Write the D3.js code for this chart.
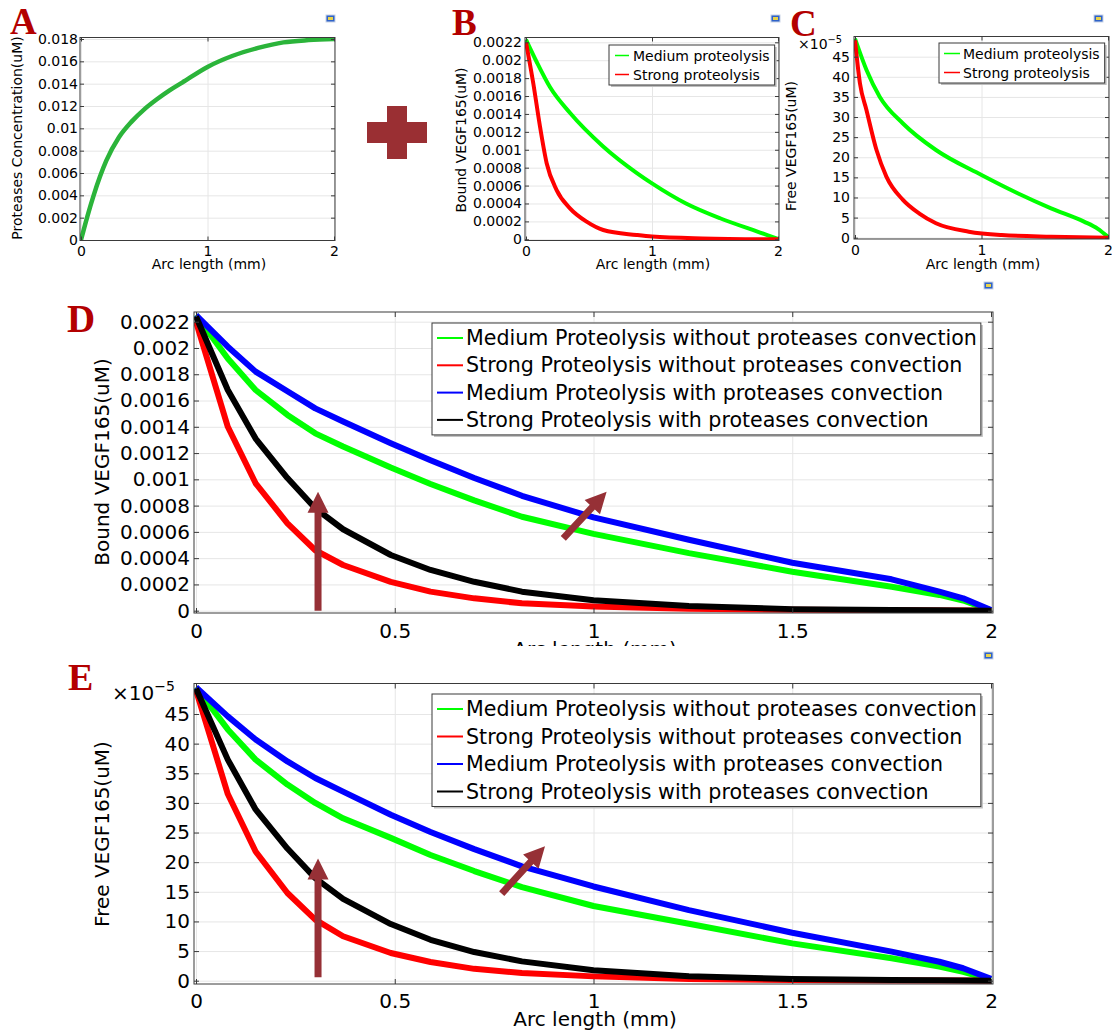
<!DOCTYPE html>
<html>
<head>
<meta charset="utf-8">
<script src="https://cdn.jsdelivr.net/npm/d3@7"></script>
<style>
  body { margin: 0; background: #fff; }
  svg { font-family: "DejaVu Sans", sans-serif; display: block; }
</style>
</head>
<body>
<svg id="fig" width="1112" height="1032"></svg>
<script>
// ---- values ----
// A: proteases concentration (uM) vs arc length (mm)
const arcA = [0, 0.05, 0.1, 0.2, 0.3, 0.4, 0.5, 0.6, 0.7, 0.8, 1.0, 1.2, 1.4, 1.6, 1.8, 2.0];
const proteaseA = [0, 0.0021, 0.0040, 0.0071, 0.0092, 0.0106, 0.0117, 0.0126, 0.0134, 0.0141, 0.0155, 0.0165, 0.0172, 0.0177, 0.0179, 0.0180];

// B: bound VEGF165 (uM)
const arcBMed = [0, 0.085, 0.19, 0.35, 0.61, 0.88, 1.0, 1.27, 1.54, 1.8, 1.92, 2.0];
const boundBMed = [0.00223, 0.00198, 0.0017, 0.00141, 0.00104, 0.00074, 0.000625, 0.0004, 0.000235, 0.000104, 0.000045, 0.000005];
const arcBStrong = [0, 0.058, 0.111, 0.164, 0.243, 0.349, 0.481, 0.613, 0.877, 1.0, 1.4, 2.0];
const boundBStrong = [0.0022, 0.00174, 0.00126, 0.00085, 0.00055, 0.000346, 0.000197, 0.000104, 0.000048, 0.00003, 0.00001, 0];

// C: free VEGF165 (x1e-5 uM)
const arcCMed = [0, 0.091, 0.196, 0.379, 0.64, 1.0, 1.29, 1.55, 1.81, 1.92, 2.0];
const freeCMed = [49.5, 41.7, 35.0, 28.4, 21.8, 15.6, 11.0, 7.3, 4.0, 2.2, 0.2];
const arcCStrong = [0, 0.039, 0.091, 0.17, 0.248, 0.379, 0.509, 0.64, 0.9, 1.16, 1.55, 2.0];
const freeCStrong = [49.1, 38.4, 31.7, 21.8, 15.2, 9.4, 6.0, 3.6, 1.5, 0.66, 0.25, 0];

// D and E share the mesh points
const arcDE = [0, 0.08, 0.15, 0.23, 0.3, 0.37, 0.49, 0.59, 0.7, 0.82, 1.0, 1.24, 1.5, 1.75, 1.87, 1.93, 2.0];
const boundMedNoConv    = [0.00225, 0.00192, 0.00168, 0.00149, 0.00135, 0.00125, 0.00109, 0.000965, 0.00084, 0.000715, 0.000585, 0.000438, 0.000297, 0.000182, 0.00012, 0.000078, 0.000002];
const boundStrongNoConv = [0.0022, 0.0014, 0.00097, 0.000665, 0.00046, 0.000348, 0.00022, 0.000145, 0.000094, 0.000056, 0.000032, 0.000015, 0.000008, 0.000004, 0.000002, 0.000001, 0];
const boundMedConv      = [0.00225, 0.00201, 0.00182, 0.00167, 0.00154, 0.00144, 0.001275, 0.001145, 0.00101, 0.000875, 0.00071, 0.00054, 0.000365, 0.000239, 0.000145, 0.000094, 0.000005];
const boundStrongConv   = [0.00224, 0.00168, 0.00131, 0.00101, 0.00078, 0.00062, 0.000424, 0.00031, 0.00022, 0.000145, 0.00008, 0.000035, 0.000012, 0.000005, 0.000003, 0.000002, 0];

const freeMedNoConv    = [49.5, 42.4, 37.3, 33.1, 30.0, 27.4, 24.1, 21.2, 18.5, 15.8, 12.6, 9.6, 6.3, 3.8, 2.4, 1.5, 0.2];
const freeStrongNoConv = [49.0, 31.5, 21.8, 14.8, 10.3, 7.5, 4.67, 3.15, 2.0, 1.3, 0.73, 0.3, 0.12, 0.05, 0.03, 0.02, 0];
const freeMedConv      = [49.5, 44.6, 40.7, 37.0, 34.2, 31.9, 28.0, 25.1, 22.2, 19.3, 15.9, 11.9, 8.1, 4.9, 3.2, 2.1, 0.3];
const freeStrongConv   = [49.3, 37.3, 28.9, 22.3, 17.3, 13.8, 9.56, 6.9, 4.84, 3.26, 1.75, 0.75, 0.3, 0.12, 0.06, 0.03, 0];

// ticks
const arcTicksSmall = [0, 1, 2];
const arcTicksBig = [0, 0.5, 1, 1.5, 2];
const proteaseTicks = [0, 0.002, 0.004, 0.006, 0.008, 0.01, 0.012, 0.014, 0.016, 0.018];
const boundTicks = [0, 0.0002, 0.0004, 0.0006, 0.0008, 0.001, 0.0012, 0.0014, 0.0016, 0.0018, 0.002, 0.0022];
const freeTicks = [0, 5, 10, 15, 20, 25, 30, 35, 40, 45];

// legend texts
const legendSmall = ["Medium proteolysis", "Strong proteolysis"];
const legendBig = [
  "Medium Proteolysis without proteases convection",
  "Strong Proteolysis without proteases convection",
  "Medium Proteolysis with proteases convection",
  "Strong Proteolysis with proteases convection"
];

// annotation arrows, in data units [from, to]
const arrowsD = [[[0.307, 0], [0.307, 0.000905]], [[0.924, 0.000551], [1.033, 0.000905]]];
const arrowsE = [[[0.307, 0.6], [0.307, 20.6]], [[0.769, 14.7], [0.878, 22.7]]];

const svg = d3.select("#fig");
const fmt = d3.format("~g");
const arrowColor = "#963036";

function arrowPath(x1, y1, x2, y2, shaft, headW, headL) {
  const dx = x2 - x1, dy = y2 - y1, len = Math.hypot(dx, dy);
  const ux = dx / len, uy = dy / len, nx = -uy, ny = ux;
  const bx = x2 - ux * headL, by = y2 - uy * headL;
  const pts = [
    [x1 + nx * shaft / 2, y1 + ny * shaft / 2],
    [bx + nx * shaft / 2, by + ny * shaft / 2],
    [bx + nx * headW / 2, by + ny * headW / 2],
    [x2, y2],
    [bx - nx * headW / 2, by - ny * headW / 2],
    [bx - nx * shaft / 2, by - ny * shaft / 2],
    [x1 - nx * shaft / 2, y1 - ny * shaft / 2]
  ];
  return "M" + pts.map(p => p.join(",")).join("L") + "Z";
}

function drawPanel(p, idx) {
  const [L, T, R, B] = p.frame;
  const x = d3.scaleLinear().domain([0, 2]).range(p.xr);
  const y = d3.scaleLinear().domain([0, p.yTicks[p.yTicks.length - 1]]).range(p.yr);
  const g = svg.append("g").attr("font-size", p.fs);

  // grid
  g.append("g").attr("transform", `translate(0,${B})`)
    .call(d3.axisBottom(x).tickValues(p.xTicks).tickSize(-(B - T)).tickFormat(""))
    .call(a => a.select(".domain").remove())
    .selectAll("line").attr("stroke", "#e6e6e6");
  g.append("g").attr("transform", `translate(${L},0)`)
    .call(d3.axisLeft(y).tickValues(p.yTicks).tickSize(-(R - L)).tickFormat(""))
    .call(a => a.select(".domain").remove())
    .selectAll("line").attr("stroke", "#e6e6e6");

  // curves
  const clipId = "clip" + idx;
  g.append("clipPath").attr("id", clipId).append("rect")
    .attr("x", L).attr("y", T).attr("width", R - L).attr("height", B - T);
  const line = d3.line().x(d => x(d[0])).y(d => y(d[1])).curve(p.curve);
  p.series.forEach(s => {
    g.append("path").datum(d3.zip(s.x, s.y))
      .attr("clip-path", `url(#${clipId})`)
      .attr("d", line)
      .attr("fill", "none")
      .attr("stroke", s.color)
      .attr("stroke-width", p.lw)
      .attr("stroke-linejoin", "round");
  });

  // frame
  g.append("rect").attr("x", L).attr("y", T).attr("width", R - L).attr("height", B - T)
    .attr("fill", "none").attr("stroke", "#3a3a3a").attr("stroke-width", 1);

  // ticks (inward on all four sides)
  const put = (axis, tx, ty) => g.append("g").attr("transform", `translate(${tx},${ty})`)
    .call(axis)
    .call(a => a.select(".domain").remove())
    .attr("font-size", null).attr("font-family", null)
    .call(a => a.selectAll("line").attr("stroke", "#3a3a3a"));
  put(d3.axisBottom(x).tickValues(p.xTicks).tickSize(-p.tick).tickPadding(p.xPad).tickFormat(fmt), 0, B);
  put(d3.axisTop(x).tickValues(p.xTicks).tickSize(-p.tick).tickFormat(""), 0, T);
  put(d3.axisLeft(y).tickValues(p.yTicks).tickSize(-p.tick).tickPadding(p.yPad).tickFormat(fmt), L, 0);
  put(d3.axisRight(y).tickValues(p.yTicks).tickSize(-p.tick).tickFormat(""), R, 0);

  // axis titles
  const xt = g.append("text").attr("x", p.xTitle[0]).attr("y", p.xTitle[1])
    .attr("text-anchor", "middle").text("Arc length (mm)");
  if (p.xClip) {
    g.append("clipPath").attr("id", clipId + "t").append("rect")
      .attr("x", 0).attr("y", 0).attr("width", 1112).attr("height", p.xClip);
    xt.attr("clip-path", `url(#${clipId}t)`);
  }
  g.append("text")
    .attr("transform", `translate(${p.yTitle[0]},${p.yTitle[1]}) rotate(-90)`)
    .attr("text-anchor", "middle").attr("dominant-baseline", "central")
    .text(p.yLabel);

  if (p.exp) {
    const t = g.append("text").attr("x", p.exp[0]).attr("y", p.exp[1]).text("×10");
    t.append("tspan").attr("font-size", p.fs * 0.7).attr("dy", -p.fs * 0.45).text("−5");
  }

  // legend
  if (p.legend) {
    const lg = p.legend;
    const lgG = g.append("g").attr("font-size", lg.fs);
    const shadow = lgG.append("rect").attr("fill", "#bdbdbd");
    const box = lgG.append("rect").attr("fill", "#fff").attr("stroke", "#3a3a3a");
    let maxW = 0;
    p.series.forEach((s, i) => {
      const cy = lg.y + lg.first + i * lg.dy;
      lgG.append("line")
        .attr("x1", lg.x + lg.sample[0]).attr("x2", lg.x + lg.sample[1])
        .attr("y1", cy).attr("y2", cy)
        .attr("stroke", s.color).attr("stroke-width", lg.sw);
      const t = lgG.append("text").attr("x", lg.x + lg.textX).attr("y", cy)
        .attr("dominant-baseline", "central").text(s.label);
      maxW = Math.max(maxW, t.node().getComputedTextLength());
    });
    const w = lg.textX + maxW + lg.padR;
    const h = lg.first * 2 + (p.series.length - 1) * lg.dy;
    box.attr("x", lg.x).attr("y", lg.y).attr("width", w).attr("height", h);
    shadow.attr("x", lg.x + 2).attr("y", lg.y + 2).attr("width", w).attr("height", h);
  }

  // arrows
  (p.arrows || []).forEach(a => {
    g.append("path")
      .attr("d", arrowPath(x(a[0][0]), y(a[0][1]), x(a[1][0]), y(a[1][1]), 7, 21, 21))
      .attr("fill", arrowColor);
  });
}

const panels = [
  {
    frame: [80, 37.5, 335, 240.5], xr: [81, 334], yr: [240, 39],
    xTicks: arcTicksSmall, yTicks: proteaseTicks, fs: 14, tick: 4, xPad: 6, yPad: 2,
    lw: 4.5, curve: d3.curveMonotoneX,
    xTitle: [209, 269], yTitle: [17, 138], yLabel: "Proteases Concentration(uM)",
    series: [{ x: arcA, y: proteaseA, color: "#2bb43a" }]
  },
  {
    frame: [525, 37.5, 779, 240.5], xr: [526, 778], yr: [239.3, 42.3],
    xTicks: arcTicksSmall, yTicks: boundTicks, fs: 14, tick: 4, xPad: 6, yPad: 3,
    lw: 4, curve: d3.curveMonotoneX,
    xTitle: [653, 269], yTitle: [461, 140], yLabel: "Bound VEGF165(uM)",
    series: [
      { x: arcBMed, y: boundBMed, color: "#00ff00", label: legendSmall[0] },
      { x: arcBStrong, y: boundBStrong, color: "#ff0000", label: legendSmall[1] }
    ],
    legend: { x: 609, y: 45, first: 10.5, dy: 19, sample: [6, 20], textX: 24, padR: 5, sw: 1.5, fs: 14 }
  },
  {
    frame: [854, 36.5, 1109, 239], xr: [855, 1108], yr: [237.7, 56.7],
    xTicks: arcTicksSmall, yTicks: freeTicks, fs: 14, tick: 4, xPad: 6, yPad: 4,
    lw: 4, curve: d3.curveMonotoneX,
    xTitle: [983, 269], yTitle: [791, 146], yLabel: "Free VEGF165(uM)", exp: [798, 49],
    series: [
      { x: arcCMed, y: freeCMed, color: "#00ff00", label: legendSmall[0] },
      { x: arcCStrong, y: freeCStrong, color: "#ff0000", label: legendSmall[1] }
    ],
    legend: { x: 939, y: 43, first: 10.5, dy: 19, sample: [5, 21], textX: 24, padR: 5, sw: 1.5, fs: 14 }
  },
  {
    frame: [194, 312, 993, 613], xr: [196, 991], yr: [610.7, 321.7],
    xTicks: arcTicksBig, yTicks: boundTicks, fs: 20, tick: 5, xPad: 11, yPad: 4,
    lw: 6, curve: d3.curveLinear,
    xTitle: [595, 656], xClip: 646, yTitle: [102, 462], yLabel: "Bound VEGF165(uM)",
    series: [
      { x: arcDE, y: boundMedNoConv, color: "#00ff00", label: legendBig[0] },
      { x: arcDE, y: boundStrongNoConv, color: "#ff0000", label: legendBig[1] },
      { x: arcDE, y: boundMedConv, color: "#0000ff", label: legendBig[2] },
      { x: arcDE, y: boundStrongConv, color: "#000000", label: legendBig[3] }
    ],
    legend: { x: 432, y: 323, first: 15, dy: 27.3, sample: [5, 31], textX: 34, padR: 4, sw: 2, fs: 20.6 },
    arrows: arrowsD
  },
  {
    frame: [194, 683.5, 993, 984], xr: [196, 991], yr: [980.7, 714],
    xTicks: arcTicksBig, yTicks: freeTicks, fs: 20, tick: 5, xPad: 10, yPad: 4,
    lw: 6, curve: d3.curveLinear,
    xTitle: [595, 1026], yTitle: [102, 834], yLabel: "Free VEGF165(uM)", exp: [112, 700],
    series: [
      { x: arcDE, y: freeMedNoConv, color: "#00ff00", label: legendBig[0] },
      { x: arcDE, y: freeStrongNoConv, color: "#ff0000", label: legendBig[1] },
      { x: arcDE, y: freeMedConv, color: "#0000ff", label: legendBig[2] },
      { x: arcDE, y: freeStrongConv, color: "#000000", label: legendBig[3] }
    ],
    legend: { x: 432, y: 694, first: 15, dy: 27.5, sample: [5, 31], textX: 34, padR: 4, sw: 2, fs: 20.6 },
    arrows: arrowsE
  }
];

panels.forEach(drawPanel);

// panel letters
const letters = [["A", 10, 34, 37], ["B", 452, 35, 37], ["C", 790, 36, 37], ["D", 67, 332, 39], ["E", 68, 690, 38]];
svg.append("g").selectAll("text").data(letters).join("text")
  .attr("x", d => d[1]).attr("y", d => d[2])
  .attr("font-family", "'Liberation Serif', 'DejaVu Serif', serif")
  .attr("font-weight", "bold").attr("font-size", d => d[3])
  .attr("fill", "#b30000")
  .text(d => d[0]);

// plus sign between A and B
const plus = svg.append("g").attr("fill", "#9a2f33");
plus.append("rect").attr("x", 367).attr("y", 122).attr("width", 60).attr("height", 21);
plus.append("rect").attr("x", 387).attr("y", 106).attr("width", 20).attr("height", 53);

// little export icons
const icons = [[326, 15], [771, 15], [1094, 15], [984, 282], [984, 652]];
const ic = svg.append("g").selectAll("g").data(icons).join("g")
  .attr("transform", d => `translate(${d[0]},${d[1]})`);
ic.append("rect").attr("width", 9).attr("height", 7).attr("fill", "#2f62c8").attr("stroke", "#c9d4e6").attr("stroke-width", 1);
ic.append("rect").attr("x", 2).attr("y", 2).attr("width", 5).attr("height", 3).attr("fill", "#e9d34a");
</script>
</body>
</html>
